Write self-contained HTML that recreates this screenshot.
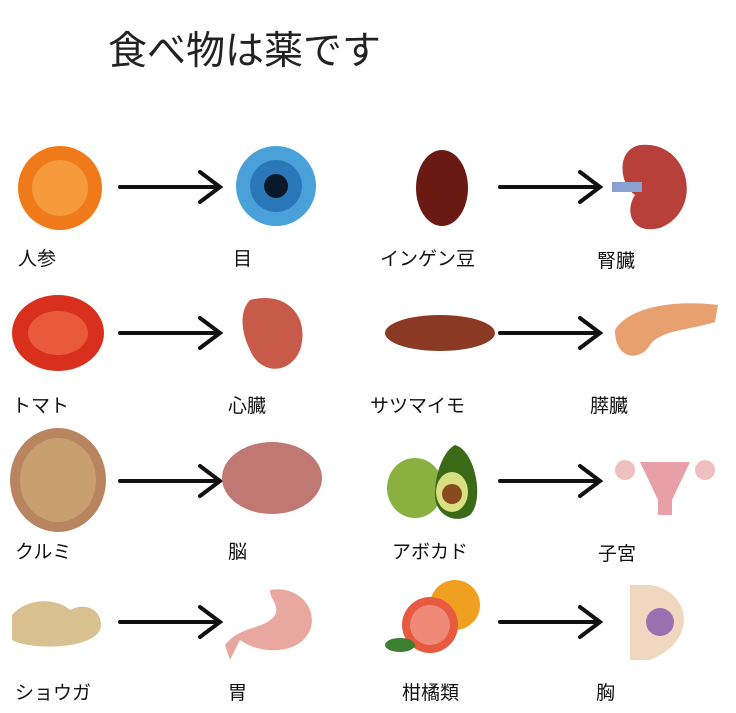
<!DOCTYPE html>
<html><head><meta charset="utf-8"><style>
html,body{margin:0;padding:0;background:#fff;}
body{width:736px;height:713px;position:relative;overflow:hidden;font-family:"Liberation Sans","Noto Sans CJK JP",sans-serif;}
.t{position:absolute;font-size:19px;color:#111;white-space:nowrap;}
.title{position:absolute;left:108px;top:20px;font-size:39px;color:#222;white-space:nowrap;}
svg{position:absolute;left:0;top:0;}
</style></head><body>
<div class="title">食べ物は薬です</div>
<svg width="736" height="713">
<g stroke="#111" stroke-width="4" fill="none" stroke-linecap="round">
<path d="M120 187 H218 M200 172 L220 187 L200 202"/>
<path d="M500 187 H598 M580 172 L600 187 L580 202"/>
<path d="M120 333 H218 M200 318 L220 333 L200 348"/>
<path d="M500 333 H598 M580 318 L600 333 L580 348"/>
<path d="M120 481 H218 M200 466 L220 481 L200 496"/>
<path d="M500 481 H598 M580 466 L600 481 L580 496"/>
<path d="M120 622 H218 M200 607 L220 622 L200 637"/>
<path d="M500 622 H598 M580 607 L600 622 L580 637"/>
</g>
<circle cx="60" cy="188" r="42" fill="#f07a1a"/><circle cx="60" cy="188" r="28" fill="#f59a3a"/>
<circle cx="276" cy="186" r="40" fill="#4aa0d8"/><circle cx="276" cy="186" r="26" fill="#2a78b8"/><circle cx="276" cy="186" r="12" fill="#0a1a2a"/>
<ellipse cx="442" cy="188" rx="26" ry="38" fill="#6a1a12"/>
<path d="M640 145 C690 140 705 210 660 228 C630 235 625 210 635 195 C620 185 615 150 640 145Z" fill="#b8403a"/>
<rect x="612" y="182" width="30" height="10" fill="#8aa0d0"/>
<ellipse cx="58" cy="333" rx="46" ry="38" fill="#d8301c"/><ellipse cx="58" cy="333" rx="30" ry="22" fill="#e85a3a"/>
<path d="M250 300 C290 290 310 320 300 350 C290 375 260 375 250 350 C240 330 240 310 250 300Z" fill="#c85a4a"/>
<ellipse cx="440" cy="333" rx="55" ry="18" fill="#8a3a22"/>
<path d="M615 330 C630 305 680 300 718 305 L715 322 C690 330 660 330 650 345 C640 362 615 360 615 330Z" fill="#e8a070"/>
<ellipse cx="58" cy="480" rx="48" ry="52" fill="#b88560"/><ellipse cx="58" cy="480" rx="38" ry="42" fill="#c8a070"/>
<ellipse cx="272" cy="478" rx="50" ry="36" fill="#c07872"/>
<ellipse cx="415" cy="488" rx="28" ry="30" fill="#8ab040"/>
<path d="M455 445 C475 450 485 500 470 515 C455 525 435 515 435 495 C435 470 445 450 455 445Z" fill="#3a6a18"/>
<ellipse cx="452" cy="492" rx="16" ry="20" fill="#d8e080"/><circle cx="452" cy="494" r="10" fill="#8a4a20"/>
<path d="M640 462 H690 L672 500 V515 H658 V500Z" fill="#e8a0a8"/>
<circle cx="625" cy="470" r="10" fill="#f0c0c0"/><circle cx="705" cy="470" r="10" fill="#f0c0c0"/>
<path d="M12 615 C30 595 60 600 70 610 C90 600 105 615 100 630 C90 650 30 650 12 640Z" fill="#d8c090"/>
<path d="M270 590 C300 585 318 610 310 630 C300 655 260 655 240 640 L230 660 L225 645 C240 625 265 630 275 615 C280 605 270 600 270 590Z" fill="#e8a8a0"/>
<circle cx="455" cy="605" r="25" fill="#f0a020"/>
<circle cx="430" cy="625" r="28" fill="#e85a40"/><circle cx="430" cy="625" r="20" fill="#f08a78"/>
<ellipse cx="400" cy="645" rx="15" ry="7" fill="#3a8030"/>
<path d="M630 585 H650 C690 590 700 640 650 660 H630Z" fill="#f0d8c0"/>
<circle cx="660" cy="622" r="14" fill="#9a70b0"/>
</svg>
<div class="t" style="left:18px;top:244px">人参</div>
<div class="t" style="left:233px;top:244px">目</div>
<div class="t" style="left:380px;top:244px">インゲン豆</div>
<div class="t" style="left:597px;top:246px">腎臓</div>
<div class="t" style="left:12px;top:391px">トマト</div>
<div class="t" style="left:228px;top:391px">心臓</div>
<div class="t" style="left:370px;top:391px">サツマイモ</div>
<div class="t" style="left:590px;top:391px">膵臓</div>
<div class="t" style="left:15px;top:537px">クルミ</div>
<div class="t" style="left:228px;top:537px">脳</div>
<div class="t" style="left:392px;top:537px">アボカド</div>
<div class="t" style="left:598px;top:539px">子宮</div>
<div class="t" style="left:15px;top:678px">ショウガ</div>
<div class="t" style="left:228px;top:678px">胃</div>
<div class="t" style="left:402px;top:678px">柑橘類</div>
<div class="t" style="left:596px;top:678px">胸</div>
</body></html>
